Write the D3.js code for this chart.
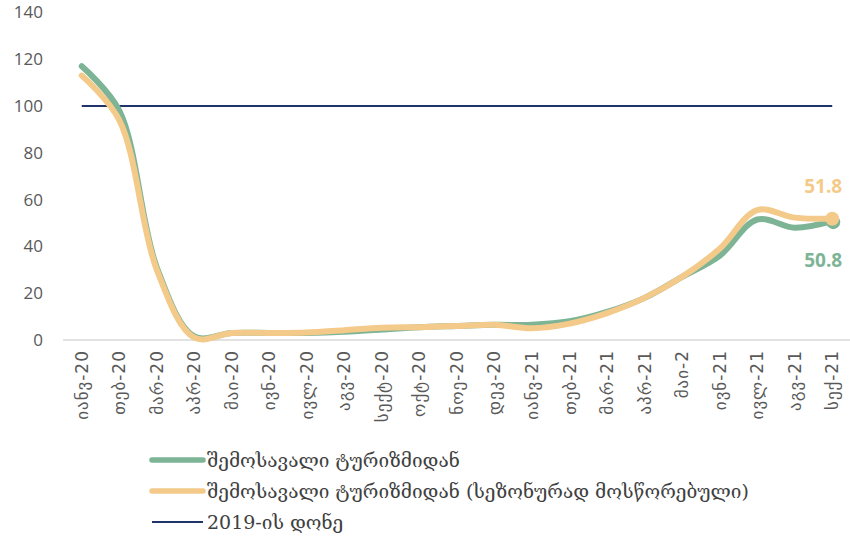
<!DOCTYPE html>
<html>
<head>
<meta charset="utf-8">
<script src="https://cdn.jsdelivr.net/npm/d3@7"></script>
<style>
  body { margin: 0; background: #fff; }
  svg { display: block; }
</style>
</head>
<body>
<div id="chart"></div>
<script>
document.addEventListener("DOMContentLoaded", function () {

    const months = ["იანვ-20", "თებ-20", "მარ-20", "აპრ-20", "მაი-20", "ივნ-20", "ივლ-20",
        "აგვ-20", "სექტ-20", "ოქტ-20", "ნოე-20", "დეკ-20", "იანვ-21", "თებ-21", "მარ-21",
        "აპრ-21", "მაი-2", "ივნ-21", "ივლ-21", "აგვ-21", "სექ-21"];

    const tourism = [117, 98, 31, 1.5, 3, 3, 3, 3.5, 4.5, 5.5, 6, 6.5, 6.5, 8, 12, 18, 27, 36, 51.5, 48, 50.8];
    const tourismSa = [113, 94, 30, 1, 3, 3, 3.2, 4.2, 5.2, 5.5, 6, 6.5, 5, 7, 11.5, 18, 27, 39, 55.5, 52.3, 51.8];
    const level2019 = months.map(() => 100);

    const yTicks = [0, 20, 40, 60, 80, 100, 120, 140];
    const legendNames = ["შემოსავალი ტურიზმიდან", "შემოსავალი ტურიზმიდან (სეზონურად მოსწორებული)", "2019-ის დონე"];

    const W = 850, H = 540,
        left = 63, right = 851, top = 12.4, bottom = 340;

    const green = "#7db496", orange = "#f4ca8a", navy = "#1f3468";

    let svg = d3.select("#chart").append("svg")
        .attr("width", W).attr("height", H);

    let x = d3.scaleBand().domain(months).range([left, right]);
    let y = d3.scaleLinear().domain([0, 140]).range([bottom, top]);
    let cx = d => x(d) + x.bandwidth() / 2;

    // y axis labels
    let yAxis = d3.axisLeft(y).tickValues(yTicks).tickSize(0).tickPadding(0);
    let gy = svg.append("g").attr("transform", "translate(43,0)").call(yAxis);
    gy.select(".domain").remove();
    gy.selectAll("text")
        .attr("font-family", "'Open Sans', 'DejaVu Sans', sans-serif")
        .attr("font-size", 17)
        .attr("fill", "#595959");

    // baseline
    svg.append("line")
        .attr("x1", left).attr("x2", right)
        .attr("y1", y(0)).attr("y2", y(0))
        .attr("stroke", "#d9d9d9").attr("stroke-width", 1.5);

    // x axis labels
    let xAxis = d3.axisBottom(x).tickSize(0).tickPadding(0);
    let gx = svg.append("g").attr("transform", `translate(0,${bottom})`).call(xAxis);
    gx.select(".domain").remove();
    gx.selectAll("text")
        .attr("font-family", "'DejaVu Sans', sans-serif")
        .attr("font-size", 17)
        .attr("letter-spacing", 1)
        .attr("fill", "#595959")
        .attr("transform", "translate(0,10) rotate(-90)")
        .attr("text-anchor", "end")
        .attr("dy", "0.35em")
        .attr("x", 0).attr("y", 0);

    let line = d3.line()
        .x((d, i) => cx(months[i]))
        .y(d => y(d))
        .curve(d3.curveCatmullRom.alpha(0.5));

    svg.append("path")
        .attr("d", d3.line().x((d, i) => cx(months[i])).y(d => y(d))(level2019))
        .attr("fill", "none").attr("stroke", navy).attr("stroke-width", 2.2);

    svg.append("path")
        .attr("d", line(tourism))
        .attr("fill", "none").attr("stroke", green).attr("stroke-width", 6)
        .attr("stroke-linecap", "round").attr("stroke-linejoin", "round");

    svg.append("path")
        .attr("d", line(tourismSa))
        .attr("fill", "none").attr("stroke", orange).attr("stroke-width", 6)
        .attr("stroke-linecap", "round").attr("stroke-linejoin", "round");

    let last = months.length - 1;

    svg.append("circle")
        .attr("cx", cx(months[last]) + 1).attr("cy", y(tourism[last]) + 1)
        .attr("r", 7).attr("fill", green);
    svg.append("circle")
        .attr("cx", cx(months[last])).attr("cy", y(tourismSa[last]))
        .attr("r", 7).attr("fill", orange);

    // end labels
    svg.append("text")
        .attr("x", cx(months[last]) + 10).attr("y", y(tourismSa[last]) - 26)
        .attr("text-anchor", "end")
        .attr("font-family", "'Open Sans', sans-serif").attr("font-weight", "bold")
        .attr("font-size", 19).attr("fill", orange)
        .text(tourismSa[last].toFixed(1));
    svg.append("text")
        .attr("x", cx(months[last]) + 10).attr("y", y(tourism[last]) + 46)
        .attr("text-anchor", "end")
        .attr("font-family", "'Open Sans', sans-serif").attr("font-weight", "bold")
        .attr("font-size", 19).attr("fill", green)
        .text(tourism[last].toFixed(1));

    // legend
    let colors = [green, orange, navy], widths = [5.5, 5.5, 2.2];
    let lg = svg.append("g");
    legendNames.forEach(function (name, i) {
        let ly = 460 + i * 31;
        lg.append("line")
            .attr("x1", 152).attr("x2", 203)
            .attr("y1", ly).attr("y2", ly)
            .attr("stroke", colors[i]).attr("stroke-width", widths[i])
            .attr("stroke-linecap", i < 2 ? "round" : "butt");
        lg.append("text")
            .attr("x", 207).attr("y", ly)
            .attr("dy", "0.35em")
            .attr("font-family", "'DejaVu Serif', serif")
            .attr("font-size", 19)
            .attr("fill", "#404040")
            .text(name);
    });

});
</script>
</body>
</html>
